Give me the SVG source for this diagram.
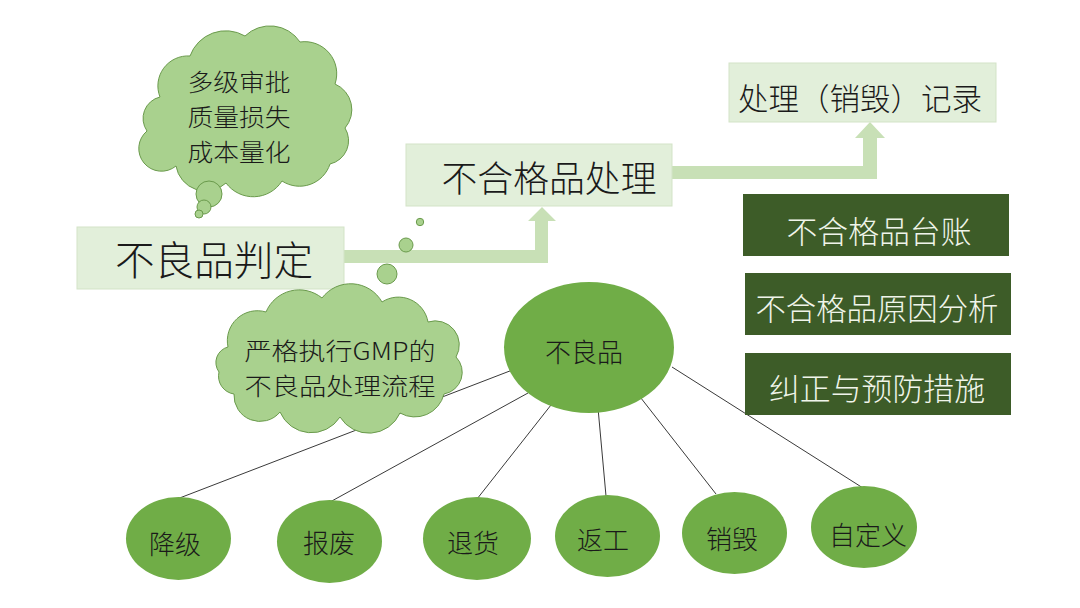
<svg xmlns="http://www.w3.org/2000/svg" width="1080" height="608" viewBox="0 0 1080 608">
<style>
.t{font-family:"Noto Sans CJK SC","Noto Sans",sans-serif;font-weight:300;dominant-baseline:central;text-anchor:middle;fill:#1a1a1a}
.lb{fill:#e2efda;stroke:#d3e3c7;stroke-width:1}
.db{fill:#3d5c28}
.wt{fill:#f0f5ea}
.arr{fill:#c8e0b6}
.cloud{fill:#a9d18e;stroke:#6a9a4c;stroke-width:1}
.node{fill:#70ad47}
.conn{stroke:#3a3a3a;stroke-width:1;fill:none}
</style>
<rect width="1080" height="608" fill="#ffffff"/>

<g id="connectors">
  <polygon class="arr" points="344,250 535,250 535,221 528,221 542,207 556,221 548,221 548,263 344,263"/>
  <polygon class="arr" points="672,166 863,166 863,138 855,138 870,122 885,138 877,138 877,179 672,179"/>
  <line class="conn" x1="515" y1="369" x2="177" y2="499"/>
  <line class="conn" x1="528" y1="393" x2="330" y2="502"/>
  <line class="conn" x1="551" y1="405" x2="477" y2="499"/>
  <line class="conn" x1="598" y1="408" x2="606" y2="496"/>
  <line class="conn" x1="637" y1="393" x2="716" y2="494"/>
  <line class="conn" x1="672" y1="367" x2="863" y2="488"/>
</g>

<g id="cloud-top">
  <path class="cloud" d="M160,97 A30,30 0 0 1 190,56 A38,38 0 0 1 245,36 A36,36 0 0 1 300,42 A32,32 0 0 1 335,84 A28,28 0 0 1 345,128 A24,24 0 0 1 330,164 A32,32 0 0 1 282,181 A34,34 0 0 1 226,183 A30,30 0 0 1 176,166 A22,22 0 0 1 147,131 A22,22 0 0 1 160,97 Z"/>
  <circle class="cloud" cx="209" cy="194" r="13"/>
  <circle class="cloud" cx="204" cy="207" r="7"/>
  <circle class="cloud" cx="199" cy="214" r="4"/>
  <text class="t" x="239" y="80" font-size="24" textLength="103" lengthAdjust="spacingAndGlyphs">多级审批</text>
  <text class="t" x="239" y="115" font-size="24" textLength="103" lengthAdjust="spacingAndGlyphs">质量损失</text>
  <text class="t" x="239" y="150" font-size="24" textLength="103" lengthAdjust="spacingAndGlyphs">成本量化</text>
</g>

<g id="bubbles">
  <circle class="cloud" cx="420" cy="222" r="3.7"/>
  <circle class="cloud" cx="406" cy="245" r="7"/>
  <circle class="cloud" cx="387" cy="274" r="10"/>
</g>

<g id="judge">
  <rect class="lb" x="77" y="227" width="267" height="62"/>
  <text class="t" x="214" y="258" font-size="40" textLength="198" lengthAdjust="spacingAndGlyphs">不良品判定</text>
</g>

<g id="process">
  <rect class="lb" x="406" y="144" width="266" height="62"/>
  <text class="t" x="549" y="176" font-size="36" textLength="215" lengthAdjust="spacingAndGlyphs">不合格品处理</text>
</g>

<g id="record">
  <rect class="lb" x="729" y="63" width="267" height="59"/>
  <text class="t" x="860" y="96" font-size="31" textLength="244" lengthAdjust="spacingAndGlyphs">处理（销毁）记录</text>
</g>

<g id="ledger">
  <rect class="db" x="743" y="194" width="266" height="62"/>
  <text class="t wt" x="879" y="229" font-size="31" textLength="185" lengthAdjust="spacingAndGlyphs">不合格品台账</text>
</g>
<g id="analysis">
  <rect class="db" x="745" y="273" width="266" height="62"/>
  <text class="t wt" x="877" y="306" font-size="31" textLength="243" lengthAdjust="spacingAndGlyphs">不合格品原因分析</text>
</g>
<g id="capa">
  <rect class="db" x="745" y="353" width="266" height="62"/>
  <text class="t wt" x="877" y="386" font-size="31" textLength="216" lengthAdjust="spacingAndGlyphs">纠正与预防措施</text>
</g>

<g id="cloud-bottom">
  <path class="cloud" d="M228,347 A30,30 0 0 1 266,312 A36,36 0 0 1 322,298 A36,36 0 0 1 382,302 A30,30 0 0 1 428,322 A24,24 0 0 1 456,357 A22,22 0 0 1 444,394 A30,30 0 0 1 400,413 A34,34 0 0 1 340,417 A34,34 0 0 1 280,412 A26,26 0 0 1 234,394 A18,18 0 0 1 219,372 A16,16 0 0 1 228,347 Z"/>
  <text class="t" x="340" y="349" font-size="24" textLength="191" lengthAdjust="spacingAndGlyphs">严格执行GMP的</text>
  <text class="t" x="340" y="384.5" font-size="24" textLength="191" lengthAdjust="spacingAndGlyphs">不良品处理流程</text>
</g>

<g id="defect">
  <ellipse class="node" cx="589" cy="347.5" rx="85" ry="65.5"/>
  <text class="t" x="584" y="350" font-size="26">不良品</text>
</g>

<g id="downgrade">
  <ellipse class="node" cx="178.5" cy="538.5" rx="52.5" ry="41.5"/>
  <text class="t" x="175" y="542" font-size="26">降级</text>
</g>
<g id="scrap">
  <ellipse class="node" cx="329.5" cy="541.5" rx="52.5" ry="41.5"/>
  <text class="t" x="329" y="541" font-size="26">报废</text>
</g>
<g id="return">
  <ellipse class="node" cx="477" cy="538.5" rx="54" ry="41.5"/>
  <text class="t" x="473" y="541" font-size="26">退货</text>
</g>
<g id="rework">
  <ellipse class="node" cx="607.5" cy="536" rx="52.5" ry="41"/>
  <text class="t" x="603" y="538" font-size="26">返工</text>
</g>
<g id="destroy">
  <ellipse class="node" cx="734.5" cy="533" rx="52.5" ry="41"/>
  <text class="t" x="732" y="537" font-size="26">销毁</text>
</g>
<g id="custom">
  <ellipse class="node" cx="864" cy="527" rx="53" ry="41"/>
  <text class="t" x="868" y="533" font-size="26">自定义</text>
</g>
</svg>
